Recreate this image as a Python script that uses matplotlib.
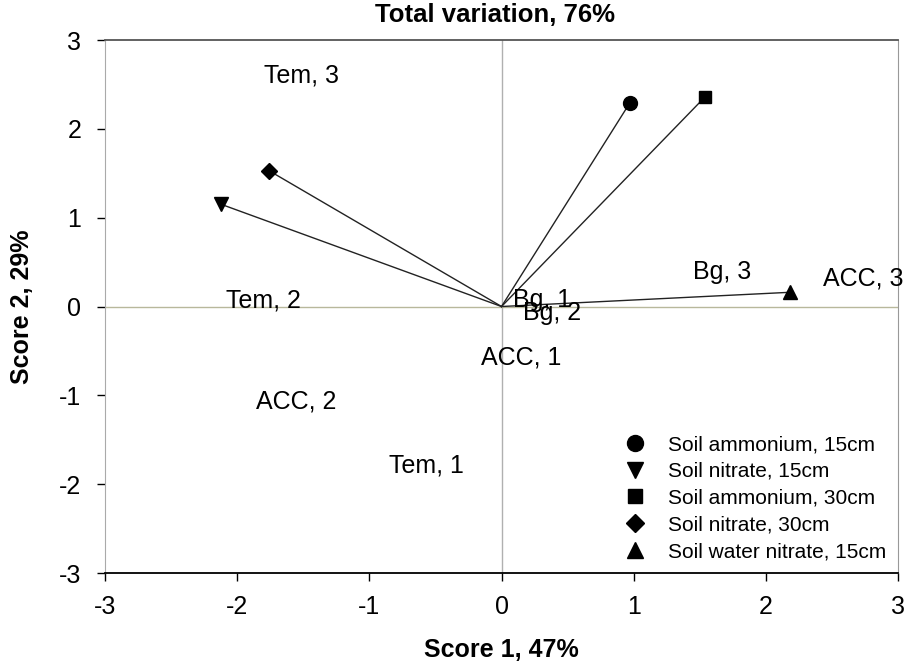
import matplotlib.pyplot as plt
from matplotlib.ticker import MultipleLocator

# vector end points (score 1, score 2)
var_names = ['Soil ammonium, 15cm', 'Soil nitrate, 15cm', 'Soil ammonium, 30cm',
             'Soil nitrate, 30cm', 'Soil water nitrate, 15cm']
var_x = [0.97, -2.12, 1.54, -1.76, 2.18]
var_y = [2.29, 1.15, 2.36, 1.53, 0.16]
var_marker = ['o', 'v', 's', 'D', '^']
var_size = [10, 10, 9, 8, 10]

# site labels
site_names = ['Tem, 3', 'Tem, 2', 'ACC, 2', 'Tem, 1', 'ACC, 1', 'Bg, 1', 'Bg, 2', 'Bg, 3', 'ACC, 3']
site_x = [-1.51, -1.80, -1.55, -0.57, 0.15, 0.31, 0.38, 1.67, 2.74]
site_y = [2.60, 0.07, -1.07, -1.79, -0.57, 0.07, -0.07, 0.39, 0.32]

plt.rcParams['font.family'] = ['Liberation Sans', 'DejaVu Sans']
plt.rcParams['axes.unicode_minus'] = False

fig = plt.figure(figsize=(9.06, 6.67), dpi=100)
ax = fig.add_axes([0.1159, 0.1409, 0.8753, 0.7991])

ax.axvline(0, color='#b0b0b0', lw=1, zorder=1)
ax.axhline(0, color='#b8b89c', lw=1, zorder=1)

for x, y, m, ms, name in zip(var_x, var_y, var_marker, var_size, var_names):
    ax.plot([0, x], [0, y], color='#222222', lw=1, zorder=2)
    ax.plot([x], [y], m, color='black', ms=ms, zorder=3, label=name)

for x, y, s in zip(site_x, site_y, site_names):
    ax.text(x, y, s, fontsize=18, ha='center', va='center', zorder=4, clip_on=False)

ax.set_xlim(-3, 3)
ax.set_ylim(-3, 3)
ax.xaxis.set_major_locator(MultipleLocator(1))
ax.yaxis.set_major_locator(MultipleLocator(1))
ax.tick_params(direction='out', length=6, width=1, labelsize=18)
ax.tick_params(axis='x', pad=10)
ax.tick_params(axis='y', pad=11)

ax.spines['top'].set_color('#555555')
ax.spines['right'].set_color('#999999')
ax.spines['left'].set_color('#aaaaaa')
ax.spines['bottom'].set_color('black')
ax.spines['bottom'].set_linewidth(1.3)
ax.spines['top'].set_linewidth(1.3)

fig.text(495 / 906, 1 - 15 / 667, 'Total variation, 76%', fontsize=18.5, fontweight='bold',
         ha='center', va='center')
ax.set_xlabel('Score 1, 47%', fontsize=18, fontweight='bold', va='center', ha='center')
ax.set_ylabel('Score 2, 29%', fontsize=18, fontweight='bold', va='center', ha='center')
ax.xaxis.set_label_coords(0.5, -0.1445)
ax.yaxis.set_label_coords(-0.1047, 0.5)

ax.legend(loc='lower right', bbox_to_anchor=(0.985, 0.0225), frameon=False, fontsize=15,
          borderaxespad=0, borderpad=0, handletextpad=1.1, labelspacing=0.37,
          handlelength=1.0, markerscale=1.15)

fig.savefig('out.png', dpi=100)
